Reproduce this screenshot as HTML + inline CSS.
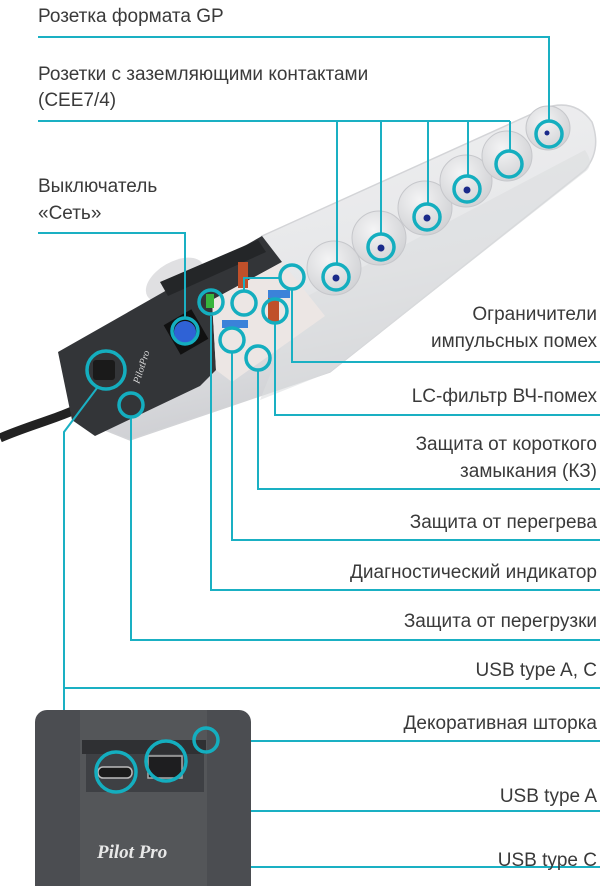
<!DOCTYPE html>
<html><head><meta charset="utf-8"><style>
html,body{margin:0;padding:0;background:#fff;}
svg{display:block;}
text{font-family:"Liberation Sans","DejaVu Sans",sans-serif;font-size:19px;fill:#3a3a3a;}
</style></head><body>
<svg width="600" height="886" viewBox="0 0 600 886" xmlns="http://www.w3.org/2000/svg">
<defs>
<linearGradient id="wg" x1="0" y1="0" x2="0.3" y2="1"><stop offset="0" stop-color="#f1f1f2"/><stop offset="0.6" stop-color="#e6e7e9"/><stop offset="1" stop-color="#cbccd0"/></linearGradient>
<radialGradient id="sg" cx="0.4" cy="0.35" r="0.7"><stop offset="0" stop-color="#f4f4f5"/><stop offset="1" stop-color="#d0d1d4"/></radialGradient>
</defs>
<!-- cable -->
<path d="M85 405 C60 418 30 425 0 438" stroke="#222" stroke-width="9" fill="none"/>
<!-- plug bump -->
<ellipse cx="175" cy="280" rx="32" ry="18" transform="rotate(-30 175 280)" fill="#e0e0e2"/>
<!-- white strip -->
<path d="M262,236 L545,108 Q575,98 592,122 Q602,150 585,170 L330,372 L130,440 L100,428 Z" fill="url(#wg)" stroke="#d3d4d7" stroke-width="1.5"/>
<path d="M300,300 L585,150 Q595,165 585,172 L330,372 L260,400 Z" fill="#dcdde0" opacity="0.6"/>
<!-- dark body -->
<path d="M58,352 L262,236 L282,262 L212,300 L216,370 L200,386 L95,436 L72,420 Z" fill="#333538"/>
<path d="M160,282 L258,240 L266,252 L168,296 Z" fill="#242628"/>
<!-- pcb -->
<path d="M212,300 L282,262 L325,316 L232,382 L216,370 Z" fill="#ece6e4"/>
<!-- switch -->
<rect x="170" y="315" width="32" height="34" fill="#111" transform="rotate(-30 186 332)"/>
<circle cx="185" cy="332" r="11" fill="#2f62d6"/>
<!-- usb port on strip -->
<rect x="93" y="360" width="22" height="20" rx="3" fill="#1a1a1a"/>
<text x="118" y="385" transform="rotate(-72 128 370)" style="font-family:'Liberation Serif',serif;font-style:italic;font-size:10px;fill:#ddd">PilotPro</text>
<!-- sockets -->
<g fill="url(#sg)" stroke="#c6c7cb" stroke-width="1">
  <circle cx="334" cy="268" r="27"/><circle cx="379" cy="238" r="27"/><circle cx="425" cy="208" r="27"/>
  <circle cx="466" cy="181" r="26"/><circle cx="507" cy="156" r="25"/><circle cx="548" cy="128" r="22"/>
</g>
<g fill="#1b2a8a"><circle cx="336" cy="278" r="3.5"/><circle cx="381" cy="248" r="3.5"/><circle cx="427" cy="218" r="3.5"/><circle cx="467" cy="190" r="3.5"/><circle cx="547" cy="133" r="2.5"/></g>
<!-- components -->
<rect x="238" y="262" width="10" height="26" fill="#c0502a"/>
<rect x="268" y="298" width="11" height="24" fill="#c0502a"/>
<rect x="268" y="290" width="22" height="8" fill="#3b82d9"/>
<rect x="222" y="320" width="26" height="8" fill="#3b82d9"/>
<rect x="206" y="294" width="8" height="14" fill="#36b53c"/>
<!-- connectors -->
<g stroke="#1ab0c3" stroke-width="2" fill="none">
  <polyline points="38,37 549,37 549,121"/>
  <polyline points="38,121 510,121"/>
  <line x1="337" y1="121" x2="337" y2="264"/><line x1="381" y1="121" x2="381" y2="234"/>
  <line x1="428" y1="121" x2="428" y2="204"/><line x1="468" y1="121" x2="468" y2="176"/>
  <line x1="510" y1="121" x2="510" y2="151"/>
  <polyline points="38,233 185,233 185,318"/>
  <polyline points="600,362 292,362 292,290"/>
  <polyline points="244,291 244,278 280,278"/>
  <polyline points="600,415 275,415 275,324"/>
  <polyline points="600,489 258,489 258,370"/>
  <polyline points="600,540 232,540 232,352"/>
  <polyline points="600,590 211,590 211,316"/>
  <polyline points="600,640 131,640 131,417"/>
  <polyline points="97,388 64,432 64,740"/>
  <line x1="64" y1="688" x2="600" y2="688"/>
  <line x1="217" y1="741" x2="600" y2="741"/>
  <polyline points="165,781 165,811 600,811"/>
  <polyline points="117,792 117,867 600,867"/>
</g>
<path d="M59 737 L69 737 L64 747 Z" fill="#1ab0c3"/>
<!-- highlight circles -->
<g stroke="#14aebf" stroke-width="3.5" fill="none">
  <circle cx="549" cy="134" r="13"/><circle cx="509" cy="164" r="13"/><circle cx="467" cy="189" r="13"/>
  <circle cx="427" cy="217" r="13"/><circle cx="381" cy="247" r="13"/><circle cx="336" cy="277" r="13"/>
  <circle cx="185" cy="331" r="13"/><circle cx="292" cy="277" r="12"/><circle cx="244" cy="303" r="12"/>
  <circle cx="275" cy="311" r="12"/><circle cx="258" cy="358" r="12"/><circle cx="232" cy="340" r="12"/>
  <circle cx="211" cy="302" r="12"/><circle cx="106" cy="370" r="19"/><circle cx="131" cy="405" r="12"/>
</g>
<!-- bottom device -->
<rect x="35" y="710" width="216" height="190" rx="12" fill="#4b4d51"/>
<rect x="80" y="710" width="127" height="180" fill="#545659"/>
<rect x="82" y="740" width="124" height="14" fill="#2f3033"/>
<rect x="86" y="754" width="118" height="38" fill="#3e4044"/>
<rect x="98" y="767" width="34" height="11" rx="5" fill="#1a1a1a" stroke="#bbb" stroke-width="1.5"/>
<rect x="148" y="756" width="34" height="22" fill="#1e1e20" stroke="#aaa" stroke-width="1.5"/>
<text x="97" y="858" style="font-family:'Liberation Serif',serif;font-style:italic;font-weight:bold;font-size:19px;fill:#e8e8e8">Pilot Pro</text>
<g stroke="#14aebf" stroke-width="3.5" fill="none">
  <circle cx="116" cy="772" r="20"/><circle cx="166" cy="761" r="20"/><circle cx="206" cy="740" r="12"/>
</g>
<!-- labels -->
<text x="38" y="22">Розетка формата GP</text>
<text x="38" y="80">Розетки с заземляющими контактами</text>
<text x="38" y="106">(CEE7/4)</text>
<text x="38" y="192">Выключатель</text>
<text x="38" y="219">«Сеть»</text>
<g text-anchor="end">
<text x="597" y="320">Ограничители</text>
<text x="597" y="347">импульсных помех</text>
<text x="597" y="402">LC-фильтр ВЧ-помех</text>
<text x="597" y="450">Защита от короткого</text>
<text x="597" y="477">замыкания (КЗ)</text>
<text x="597" y="528">Защита от перегрева</text>
<text x="597" y="578">Диагностический индикатор</text>
<text x="597" y="627">Защита от перегрузки</text>
<text x="597" y="676">USB type A, C</text>
<text x="597" y="729">Декоративная шторка</text>
<text x="597" y="802">USB type A</text>
<text x="597" y="866">USB type C</text>
</g>
</svg>
</body></html>
